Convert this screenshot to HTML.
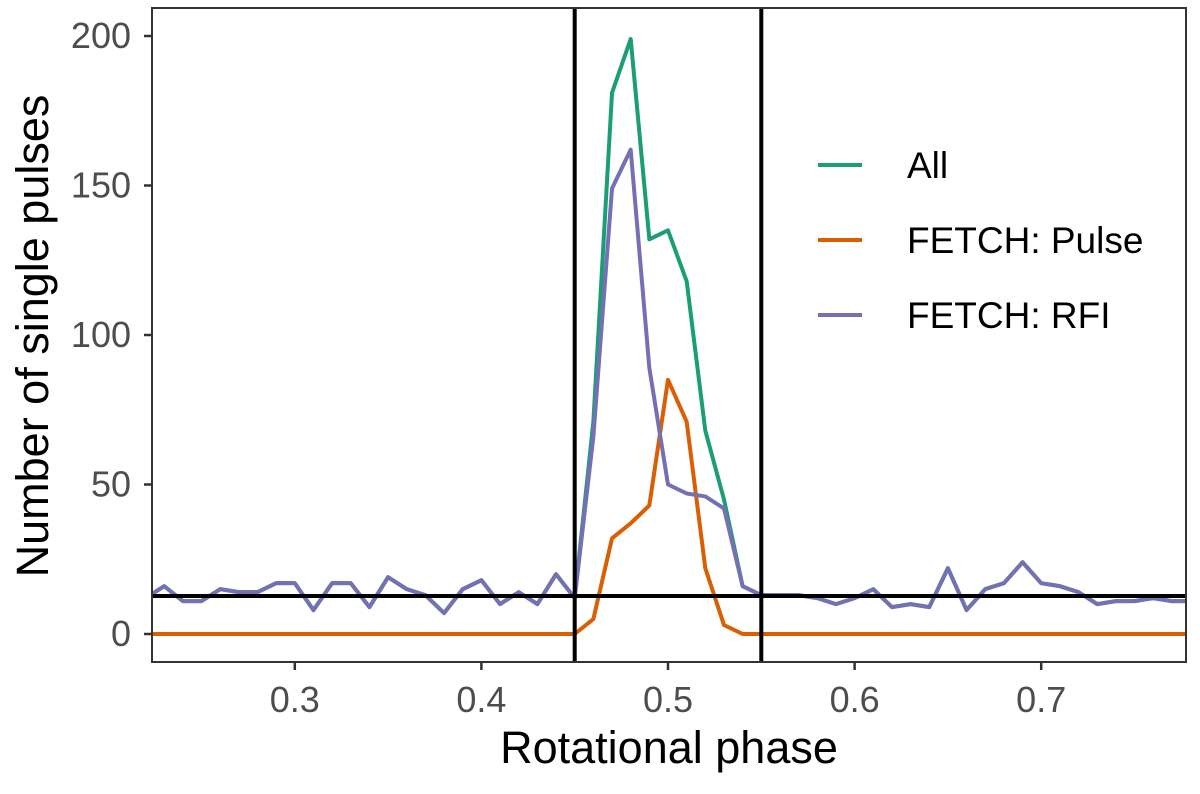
<!DOCTYPE html>
<html><head><meta charset="utf-8"><style>
body{margin:0;background:#fff}
svg text{font-family:"Liberation Sans",Arial,sans-serif}
</style></head><body>
<svg id="chart" width="1200" height="789"></svg>
<script>
const phases=[0.22,0.23,0.24,0.25,0.26,0.27,0.28,0.29,0.30,0.31,0.32,0.33,0.34,0.35,0.36,0.37,0.38,0.39,0.40,0.41,0.42,0.43,0.44,0.45,0.46,0.47,0.48,0.49,0.50,0.51,0.52,0.53,0.54,0.55,0.56,0.57,0.58,0.59,0.60,0.61,0.62,0.63,0.64,0.65,0.66,0.67,0.68,0.69,0.70,0.71,0.72,0.73,0.74,0.75,0.76,0.77,0.78];
const rfi=[12,16,11,11,15,14,14,17,17,8,17,17,9,19,15,13,7,15,18,10,14,10,20,12,66,149,162,89,50,47,46,42,16,13,13,13,12,10,12,15,9,10,9,22,8,15,17,24,17,16,14,10,11,11,12,11,11];
const pulse=[0,0,0,0,0,0,0,0,0,0,0,0,0,0,0,0,0,0,0,0,0,0,0,0,5,32,37,43,85,71,22,3,0,0,0,0,0,0,0,0,0,0,0,0,0,0,0,0,0,0,0,0,0,0,0,0,0];
const all=[12,16,11,11,15,14,14,17,17,8,17,17,9,19,15,13,7,15,18,10,14,10,20,12,71,181,199,132,135,118,68,45,16,13,13,13,12,10,12,15,9,10,9,22,8,15,17,24,17,16,14,10,11,11,12,11,11];
const xTicks=[0.3,0.4,0.5,0.6,0.7];
const yTicks=[0,50,100,150,200];
const vLines=[0.45,0.55];
const hLine=[12.7];
const seriesNames=["All","FETCH: Pulse","FETCH: RFI"];
const seriesColors=["#1B9E77","#D95F02","#7570B3"];

const L=152,R=1186,T=8,B=662;
const xs=v=>668+(v-0.5)*1866;
const ys=v=>634-v*2.99;
const NS="http://www.w3.org/2000/svg";
const svg=document.getElementById('chart');
function mk(t,a,p){const e=document.createElementNS(NS,t);for(const k in a)e.setAttribute(k,a[k]);(p||svg).appendChild(e);return e;}
const defs=mk('defs',{});
const cp=mk('clipPath',{id:'clip'},defs);mk('rect',{x:L,y:T,width:R-L,height:B-T},cp);
const g=mk('g',{'clip-path':'url(#clip)'});


const dataSets=[all,pulse,rfi];
const keys=['all','fetch-pulse','fetch-rfi'];
dataSets.forEach((d,i)=>{
  const p=mk('polyline',{points:d.map((v,j)=>xs(phases[j])+','+ys(v)).join(' '),fill:'none',stroke:seriesColors[i],'stroke-width':4,'stroke-linejoin':'round'},g);
  
  
});
vLines.forEach(v=>{const l=mk('line',{x1:xs(v),x2:xs(v),y1:T,y2:B,stroke:'#000','stroke-width':4},g);
  
  });
hLine.forEach(v=>{const l=mk('line',{x1:L,x2:R,y1:ys(v),y2:ys(v),stroke:'#000','stroke-width':4},g);
  
  });
const fr=mk('rect',{x:L,y:T,width:R-L,height:B-T,fill:'none',stroke:'#333','stroke-width':2});


yTicks.forEach(v=>{
  mk('line',{x1:L-8,x2:L,y1:ys(v),y2:ys(v),stroke:'#333','stroke-width':2.5});
  const t=mk('text',{x:L-21,y:ys(v)+12,'text-anchor':'end','font-size':36,fill:'#4d4d4d'});t.textContent=v;
  
  
});
xTicks.forEach(v=>{
  mk('line',{x1:xs(v),x2:xs(v),y1:B,y2:B+8,stroke:'#333','stroke-width':2.5});
  const t=mk('text',{x:xs(v),y:712,'text-anchor':'middle','font-size':36,fill:'#4d4d4d'});t.textContent=v.toFixed(1);
  
  
});
const xt=mk('text',{x:669,y:763,'text-anchor':'middle','font-size':45,fill:'#000'});xt.textContent='Rotational phase';


const yt=mk('text',{x:0,y:0,transform:'translate(48,336) rotate(-90)','text-anchor':'middle','font-size':45,fill:'#000'});yt.textContent='Number of single pulses';


seriesNames.forEach((n,i)=>{
  const y=165+i*75;
  const lg=mk('g',{});
  
  
  mk('line',{x1:818,x2:862,y1:y,y2:y,stroke:seriesColors[i],'stroke-width':4},lg);
  const t=mk('text',{x:907,y:y+13,'font-size':37,fill:'#000'},lg);t.textContent=n;
});
</script>
</body></html>
